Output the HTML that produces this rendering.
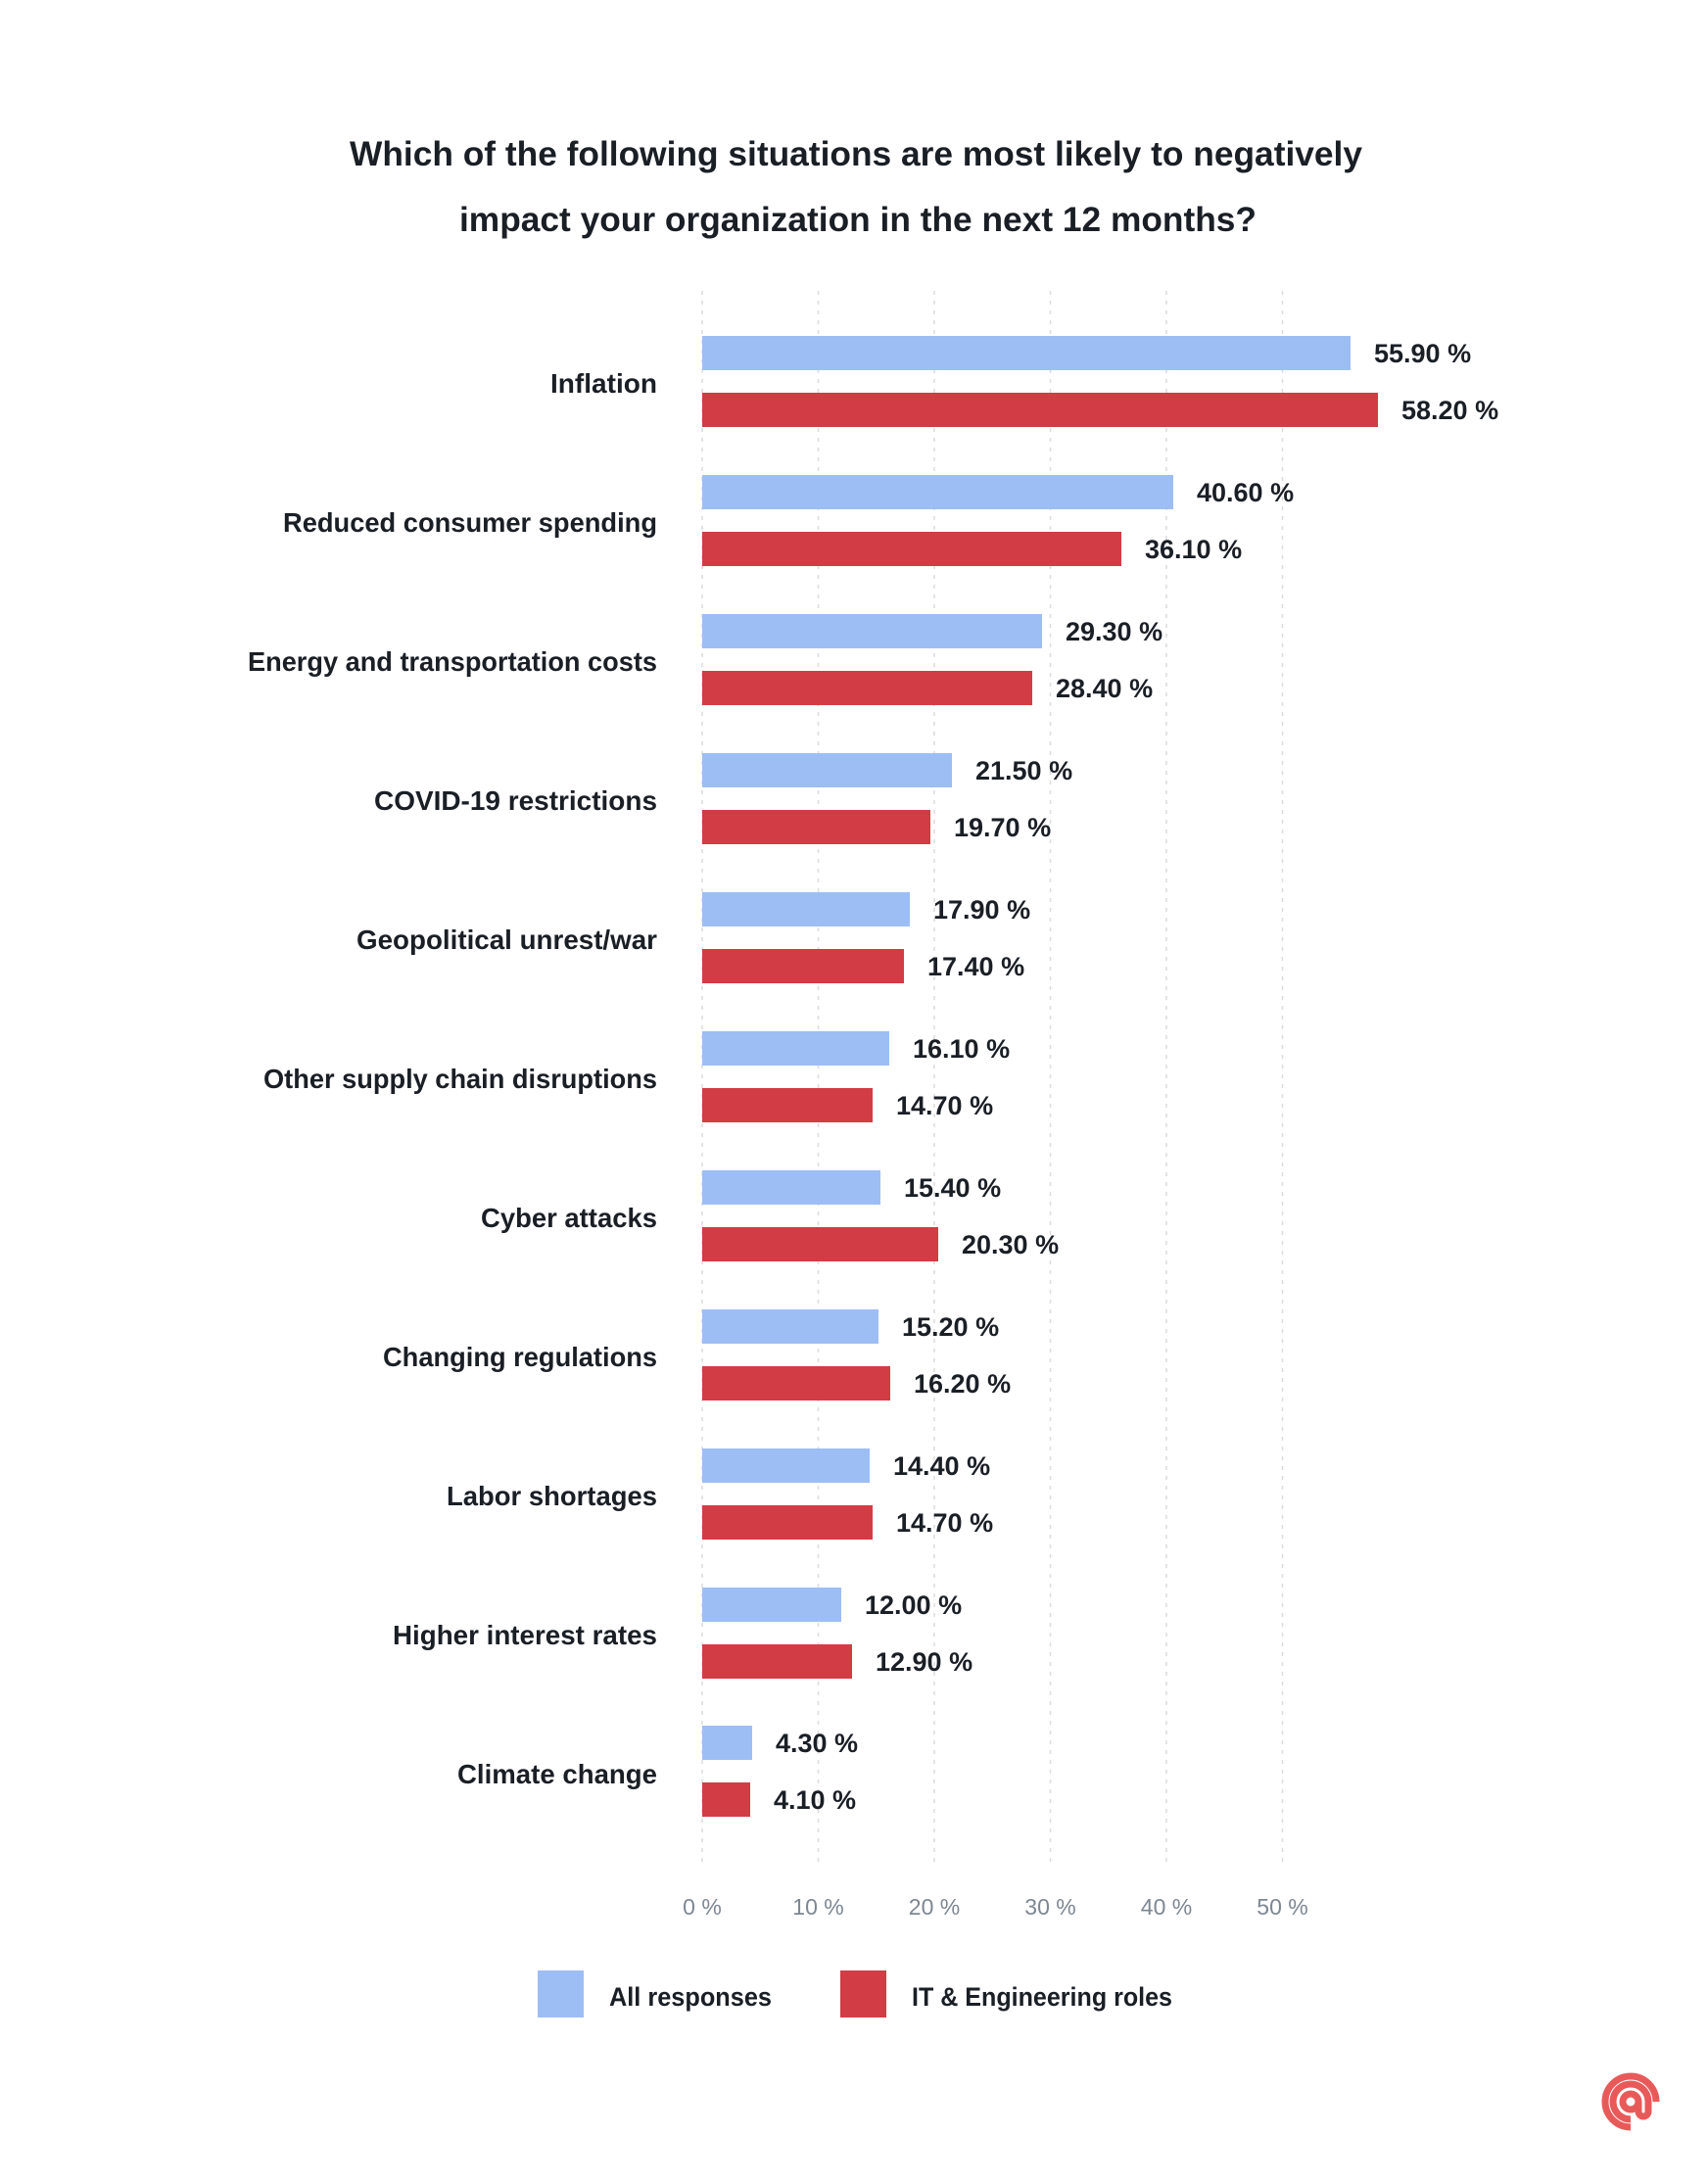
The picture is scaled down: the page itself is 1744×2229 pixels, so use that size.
<!DOCTYPE html>
<html><head><meta charset="utf-8"><style>html,body{margin:0;padding:0;background:#fff}svg{display:block}</style></head>
<body>
<svg width="1744" height="2229" viewBox="0 0 1744 2229" xmlns="http://www.w3.org/2000/svg" font-family="Liberation Sans, Arial, sans-serif">
<rect width="1744" height="2229" fill="#fff"/>
<g font-weight="bold" fill="#1a1f26" font-size="35" text-anchor="middle">
<text x="874" y="169" textLength="1034" lengthAdjust="spacingAndGlyphs">Which of the following situations are most likely to negatively</text>
<text x="876" y="236" textLength="814" lengthAdjust="spacingAndGlyphs">impact your organization in the next 12 months?</text>
</g>
<g stroke="#dcdcdc" stroke-width="1.5" stroke-dasharray="4,6">
<line x1="717" y1="297" x2="717" y2="1905"/><line x1="835.5" y1="297" x2="835.5" y2="1905"/><line x1="954" y1="297" x2="954" y2="1905"/><line x1="1072.5" y1="297" x2="1072.5" y2="1905"/><line x1="1191" y1="297" x2="1191" y2="1905"/><line x1="1309.5" y1="297" x2="1309.5" y2="1905"/>
</g>
<g fill="#7d8792" font-size="23" text-anchor="middle">
<text x="717" y="1955">0 %</text><text x="835.5" y="1955">10 %</text><text x="954" y="1955">20 %</text><text x="1072.5" y="1955">30 %</text><text x="1191" y="1955">40 %</text><text x="1309.5" y="1955">50 %</text>
</g>
<g fill="#1a1f26" font-weight="bold" font-size="28" text-anchor="end">
<text x="671" y="401" textLength="109" lengthAdjust="spacingAndGlyphs">Inflation</text>
<text x="671" y="543" textLength="382" lengthAdjust="spacingAndGlyphs">Reduced consumer spending</text>
<text x="671" y="685" textLength="418" lengthAdjust="spacingAndGlyphs">Energy and transportation costs</text>
<text x="671" y="827" textLength="289" lengthAdjust="spacingAndGlyphs">COVID-19 restrictions</text>
<text x="671" y="969" textLength="307" lengthAdjust="spacingAndGlyphs">Geopolitical unrest/war</text>
<text x="671" y="1111" textLength="402" lengthAdjust="spacingAndGlyphs">Other supply chain disruptions</text>
<text x="671" y="1253" textLength="180" lengthAdjust="spacingAndGlyphs">Cyber attacks</text>
<text x="671" y="1395" textLength="280" lengthAdjust="spacingAndGlyphs">Changing regulations</text>
<text x="671" y="1537" textLength="215" lengthAdjust="spacingAndGlyphs">Labor shortages</text>
<text x="671" y="1679" textLength="270" lengthAdjust="spacingAndGlyphs">Higher interest rates</text>
<text x="671" y="1821" textLength="204" lengthAdjust="spacingAndGlyphs">Climate change</text>
</g>
<g font-weight="bold" font-size="27" fill="#1a1f26">
<rect x="717" y="343" width="662" height="35" fill="#9dbef5"/><text x="1403" y="370">55.90 %</text>
<rect x="717" y="401" width="690" height="35" fill="#d23c44"/><text x="1431" y="428">58.20 %</text>
<rect x="717" y="485" width="481" height="35" fill="#9dbef5"/><text x="1222" y="512">40.60 %</text>
<rect x="717" y="543" width="428" height="35" fill="#d23c44"/><text x="1169" y="570">36.10 %</text>
<rect x="717" y="627" width="347" height="35" fill="#9dbef5"/><text x="1088" y="654">29.30 %</text>
<rect x="717" y="685" width="337" height="35" fill="#d23c44"/><text x="1078" y="712">28.40 %</text>
<rect x="717" y="769" width="255" height="35" fill="#9dbef5"/><text x="996" y="796">21.50 %</text>
<rect x="717" y="827" width="233" height="35" fill="#d23c44"/><text x="974" y="854">19.70 %</text>
<rect x="717" y="911" width="212" height="35" fill="#9dbef5"/><text x="953" y="938">17.90 %</text>
<rect x="717" y="969" width="206" height="35" fill="#d23c44"/><text x="947" y="996">17.40 %</text>
<rect x="717" y="1053" width="191" height="35" fill="#9dbef5"/><text x="932" y="1080">16.10 %</text>
<rect x="717" y="1111" width="174" height="35" fill="#d23c44"/><text x="915" y="1138">14.70 %</text>
<rect x="717" y="1195" width="182" height="35" fill="#9dbef5"/><text x="923" y="1222">15.40 %</text>
<rect x="717" y="1253" width="241" height="35" fill="#d23c44"/><text x="982" y="1280">20.30 %</text>
<rect x="717" y="1337" width="180" height="35" fill="#9dbef5"/><text x="921" y="1364">15.20 %</text>
<rect x="717" y="1395" width="192" height="35" fill="#d23c44"/><text x="933" y="1422">16.20 %</text>
<rect x="717" y="1479" width="171" height="35" fill="#9dbef5"/><text x="912" y="1506">14.40 %</text>
<rect x="717" y="1537" width="174" height="35" fill="#d23c44"/><text x="915" y="1564">14.70 %</text>
<rect x="717" y="1621" width="142" height="35" fill="#9dbef5"/><text x="883" y="1648">12.00 %</text>
<rect x="717" y="1679" width="153" height="35" fill="#d23c44"/><text x="894" y="1706">12.90 %</text>
<rect x="717" y="1762" width="51" height="35" fill="#9dbef5"/><text x="792" y="1789">4.30 %</text>
<rect x="717" y="1820" width="49" height="35" fill="#d23c44"/><text x="790" y="1847">4.10 %</text>
</g>
<rect x="549" y="2012" width="47" height="48" fill="#9dbef5"/>
<text x="622" y="2048" font-weight="bold" font-size="27" fill="#1a1f26" textLength="166" lengthAdjust="spacingAndGlyphs">All responses</text>
<rect x="858" y="2012" width="47" height="48" fill="#d23c44"/>
<text x="931" y="2048" font-weight="bold" font-size="27" fill="#1a1f26" textLength="266" lengthAdjust="spacingAndGlyphs">IT &amp; Engineering roles</text>
<g fill="none" stroke="#e85a5a" stroke-width="7">
<circle cx="1665" cy="2146" r="8"/>
<path d="M1673 2146 v10 a5 5 0 0 0 10 0 v-10 a18 18 0 1 0 -18 18"/>
<path d="M1691 2146 a26 26 0 1 0 -26 26"/>
</g>
</svg>
</body></html>
